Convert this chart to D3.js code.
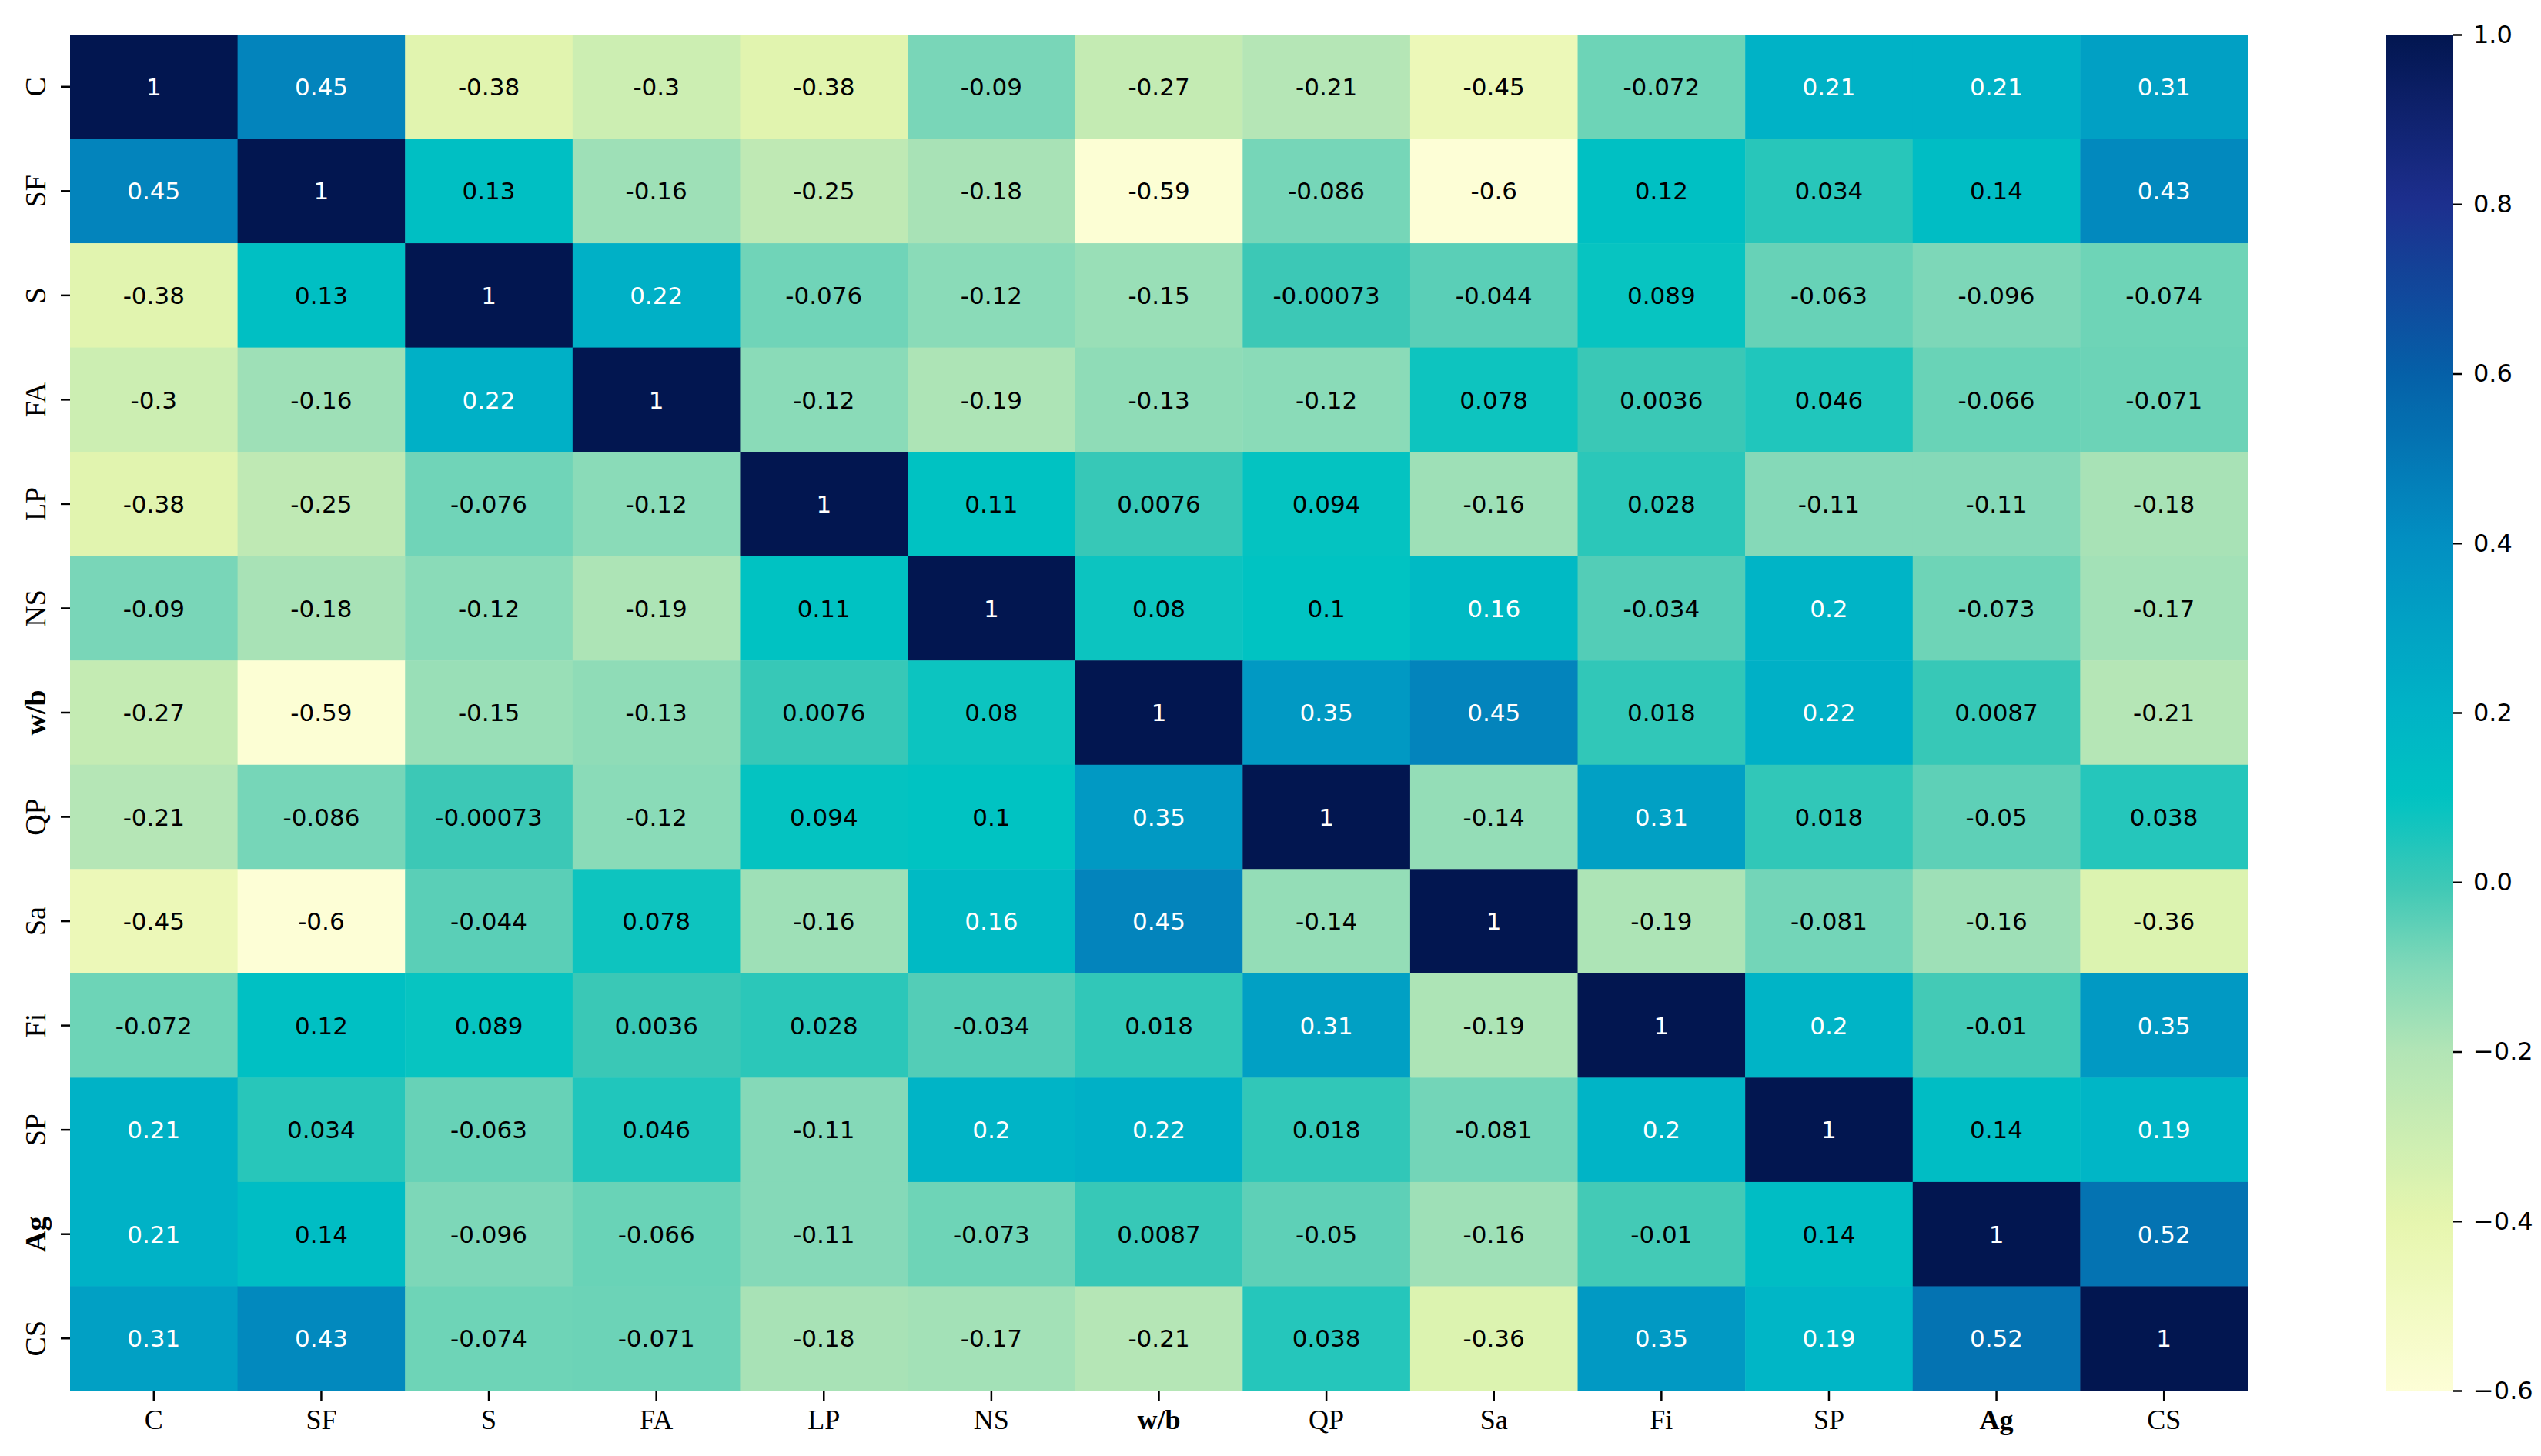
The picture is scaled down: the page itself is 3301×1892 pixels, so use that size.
<!DOCTYPE html>
<html>
<head>
<meta charset="utf-8">
<script src="https://cdn.jsdelivr.net/npm/d3@7"></script>
<style>
  html, body { margin: 0; padding: 0; background: #fff; }
  svg { display: block; }
</style>
</head>
<body>
<svg id="chart"></svg>
<script>
// variable names, same order on both axes
const labels = ["C", "SF", "S", "FA", "LP", "NS", "w/b", "QP", "Sa", "Fi", "SP", "Ag", "CS"]

// one row of the correlation matrix per variable
const rowC  = [1, 0.45, -0.38, -0.3, -0.38, -0.09, -0.27, -0.21, -0.45, -0.072, 0.21, 0.21, 0.31]
const rowSF = [0.45, 1, 0.13, -0.16, -0.25, -0.18, -0.59, -0.086, -0.6, 0.12, 0.034, 0.14, 0.43]
const rowS  = [-0.38, 0.13, 1, 0.22, -0.076, -0.12, -0.15, -0.00073, -0.044, 0.089, -0.063, -0.096, -0.074]
const rowFA = [-0.3, -0.16, 0.22, 1, -0.12, -0.19, -0.13, -0.12, 0.078, 0.0036, 0.046, -0.066, -0.071]
const rowLP = [-0.38, -0.25, -0.076, -0.12, 1, 0.11, 0.0076, 0.094, -0.16, 0.028, -0.11, -0.11, -0.18]
const rowNS = [-0.09, -0.18, -0.12, -0.19, 0.11, 1, 0.08, 0.1, 0.16, -0.034, 0.2, -0.073, -0.17]
const rowWB = [-0.27, -0.59, -0.15, -0.13, 0.0076, 0.08, 1, 0.35, 0.45, 0.018, 0.22, 0.0087, -0.21]
const rowQP = [-0.21, -0.086, -0.00073, -0.12, 0.094, 0.1, 0.35, 1, -0.14, 0.31, 0.018, -0.05, 0.038]
const rowSa = [-0.45, -0.6, -0.044, 0.078, -0.16, 0.16, 0.45, -0.14, 1, -0.19, -0.081, -0.16, -0.36]
const rowFi = [-0.072, 0.12, 0.089, 0.0036, 0.028, -0.034, 0.018, 0.31, -0.19, 1, 0.2, -0.01, 0.35]
const rowSP = [0.21, 0.034, -0.063, 0.046, -0.11, 0.2, 0.22, 0.018, -0.081, 0.2, 1, 0.14, 0.19]
const rowAg = [0.21, 0.14, -0.096, -0.066, -0.11, -0.073, 0.0087, -0.05, -0.16, -0.01, 0.14, 1, 0.52]
const rowCS = [0.31, 0.43, -0.074, -0.071, -0.18, -0.17, -0.21, 0.038, -0.36, 0.35, 0.19, 0.52, 1]

const rows = [rowC, rowSF, rowS, rowFA, rowLP, rowNS, rowWB, rowQP, rowSa, rowFi, rowSP, rowAg, rowCS]

// colour bar range and ticks
const colorMin = -0.6
const colorMax = 1.0
const colorTicks = [-0.6, -0.4, -0.2, 0.0, 0.2, 0.4, 0.6, 0.8, 1.0]

// YlGnBu-like ramp (it is a bit more saturated than the plain scheme)
const rampValues = [-0.6, -0.4, -0.2, -0.1, 0.0, 0.1, 0.2, 0.4, 0.6, 0.8, 1.0]
const rampColors = ["#fdfed6", "#e6f6ae", "#b2e5b6", "#80d8b8", "#3cc8b6", "#00c3c2",
                    "#00b4c6", "#0290c2", "#0560a8", "#1d2f8e", "#021650"]

const W = 3301
const H = 1892
const plot = { left: 91, right: 2920, top: 45, bottom: 1807 }
const bar = { left: 3099, right: 3187 }

const svg = d3.select("#chart").attr("width", W).attr("height", H)

const x = d3.scaleBand().domain(labels).range([plot.left, plot.right]).padding(0)
const y = d3.scaleBand().domain(labels).range([plot.top, plot.bottom]).padding(0)
const color = d3.scaleLinear().domain(rampValues).range(rampColors).clamp(true)

const cells = []
rows.forEach((r, i) => r.forEach((v, j) => cells.push({ row: labels[i], col: labels[j], v })))

svg.append("g")
  .selectAll("rect")
  .data(cells)
  .join("rect")
  .attr("x", d => x(d.col))
  .attr("y", d => y(d.row))
  .attr("width", x.bandwidth() + 0.5)
  .attr("height", y.bandwidth() + 0.5)
  .attr("fill", d => color(d.v))

svg.append("g")
  .selectAll("text")
  .data(cells)
  .join("text")
  .attr("x", d => x(d.col) + x.bandwidth() / 2)
  .attr("y", d => y(d.row) + y.bandwidth() / 2)
  .attr("dy", "0.36em")
  .attr("text-anchor", "middle")
  .style("font-family", "DejaVu Sans")
  .style("font-size", "31px")
  .style("fill", d => (d.v >= 0.15 ? "#fff" : "#000"))
  .text(d => String(d.v))

const boldLabels = ["w/b", "Ag"]

// x axis
const xAxis = svg.append("g")
  .attr("transform", `translate(0,${plot.bottom})`)
  .call(d3.axisBottom(x).tickSize(13).tickPadding(11))
xAxis.select(".domain").remove()
xAxis.selectAll(".tick line").attr("stroke", "#000").attr("stroke-width", 2.5)
xAxis.selectAll(".tick text")
  .style("font-family", "Liberation Serif")
  .style("font-size", "36px")
  .style("font-weight", d => (boldLabels.includes(d) ? "bold" : "normal"))
  .attr("fill", "#000")

// y axis, labels turned upright
const yAxis = svg.append("g")
  .attr("transform", `translate(${plot.left},0)`)
  .call(d3.axisLeft(y).tickSize(12))
yAxis.select(".domain").remove()
yAxis.selectAll(".tick line").attr("stroke", "#000").attr("stroke-width", 2.5)
yAxis.selectAll(".tick text")
  .attr("x", 0)
  .attr("y", 0)
  .attr("dy", "0.33em")
  .attr("transform", "translate(-45,0) rotate(-90)")
  .attr("text-anchor", "middle")
  .style("font-family", "Liberation Serif")
  .style("font-size", "38px")
  .style("font-weight", d => (boldLabels.includes(d) ? "bold" : "normal"))
  .attr("fill", "#000")

// colour bar
const cbar = d3.scaleLinear().domain([colorMin, colorMax]).range([plot.bottom, plot.top])

const defs = svg.append("defs")
const grad = defs.append("linearGradient")
  .attr("id", "cbar-grad")
  .attr("x1", 0).attr("y1", 1).attr("x2", 0).attr("y2", 0)
grad.selectAll("stop")
  .data(d3.range(0, 1.0001, 0.01))
  .join("stop")
  .attr("offset", t => t)
  .attr("stop-color", t => color(colorMin + t * (colorMax - colorMin)))

svg.append("rect")
  .attr("x", bar.left)
  .attr("y", cbar(colorMax))
  .attr("width", bar.right - bar.left)
  .attr("height", cbar(colorMin) - cbar(colorMax))
  .attr("fill", "url(#cbar-grad)")

const cAxis = svg.append("g")
  .attr("transform", `translate(${bar.right},0)`)
  .call(d3.axisRight(cbar).tickValues(colorTicks).tickFormat(d3.format(".1f")).tickSize(12).tickPadding(14))
cAxis.select(".domain").remove()
cAxis.selectAll(".tick line").attr("stroke", "#000").attr("stroke-width", 2.5)
cAxis.selectAll(".tick text")
  .style("font-family", "DejaVu Sans")
  .style("font-size", "32px")
  .attr("fill", "#000")
</script>
</body>
</html>
